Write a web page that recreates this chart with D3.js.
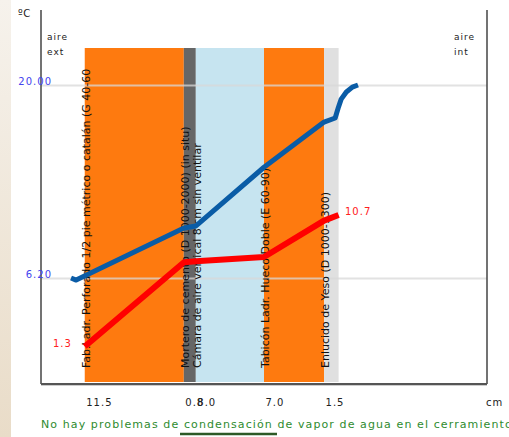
<!DOCTYPE html>
<html><head><meta charset="utf-8">
<script src="https://cdn.jsdelivr.net/npm/d3@7"></script>
<style>body{margin:0;background:#fff;}svg{display:block;font-family:"DejaVu Sans",Verdana,sans-serif;}</style>
</head><body>
<script>
// ---- data ----
const layerNames = [
  "Fab.Ladr. Perforado 1/2 pie métrico o catalán (G 40-60",
  "Mortero de cemento (D 1000-2000) (in situ)",
  "Cámara de aire vertical 8 cm sin ventilar",
  "Tabicón Ladr. Hueco Doble (E 60-90)",
  "Enlucido de Yeso (D 1000-1300)"
];
const layerKinds = ["fabrica", "mortero", "camara", "fabrica", "enlucido"];
const layerThickLabels = ["11.5", "0.8", "8.0", "7.0", "1.5"];
const layerBounds = [5.1, 16.65, 18.05, 26.0, 33.0, 34.7]; // display position (cm)
const tempPos  = [3.5, 4.1, 16.67, 18.07, 26.0, 33.0, 34.3, 34.65, 35.0, 35.6, 36.3, 36.96];
const tempVals = [6.2, 6.05, 9.77, 9.92, 14.12, 17.35, 17.64, 18.35, 18.99, 19.5, 19.85, 20.0];
const dewPos   = [5.1, 16.67, 18.07, 26.0, 33.0, 34.7];
const dewVals  = [1.3, 7.33, 7.39, 7.7, 10.3, 10.7];
const yTickVals = [6.2, 20];
const message = "No hay problemas de condensación de vapor de agua en el cerramiento";

// ---- styles ----
const kindColor = {fabrica:"#fe7a0f", mortero:"#666666", camara:"#c6e4f0", enlucido:"#e0e0e0"};

const W = 509, H = 437;
const svg = d3.select("body").append("svg").attr("width", W).attr("height", H);

const defs = svg.append("defs");
const g1 = defs.append("linearGradient").attr("id","bg").attr("x1",0).attr("x2",0).attr("y1",0).attr("y2",1);
g1.append("stop").attr("offset","0%").attr("stop-color","#f6f2ec");
g1.append("stop").attr("offset","100%").attr("stop-color","#e9dcc8");
svg.append("rect").attr("x",0).attr("y",0).attr("width",11).attr("height",H).attr("fill","url(#bg)");

const x = d3.scaleLinear().domain([0, 52]).range([41, 487]);
const y = d3.scaleLinear().domain([6.2, 20]).range([278, 85]);
const plotTop = 10, plotBottom = 384, layerTop = 48, layerBottom = 382;

// layers
const layers = layerNames.map((n,i)=>({name:n, kind:layerKinds[i], label:layerThickLabels[i], x0:layerBounds[i], x1:layerBounds[i+1]}));
svg.append("g").selectAll("rect").data(layers).join("rect")
  .attr("x", d=>x(d.x0)).attr("y", layerTop)
  .attr("width", d=>x(d.x1)-x(d.x0)).attr("height", layerBottom-layerTop)
  .attr("fill", d=>kindColor[d.kind]);

// grid lines via axis
const grid = svg.append("g").attr("transform",`translate(${x(0)},0)`)
  .call(d3.axisLeft(y).tickValues(yTickVals).tickSize(-(x(52)-x(0))).tickFormat(""));
grid.select(".domain").remove();
grid.selectAll("line").attr("stroke","#d8d8d8").attr("stroke-opacity",0.75).attr("stroke-width",2);

// rotated layer names
svg.append("g").selectAll("text").data(layers).join("text")
  .attr("transform", d=>`translate(${x(d.x0)+5},368) rotate(-90)`)
  .attr("font-size",11).attr("fill","#111").text(d=>d.name);

// lines
const line = d3.line().x(d=>x(d[0])).y(d=>y(d[1]));
svg.append("path").datum(dewPos.map((p,i)=>[p,dewVals[i]]))
  .attr("d", line).attr("fill","none").attr("stroke","#ff0000").attr("stroke-width",6).attr("stroke-linejoin","round");
svg.append("path").datum(tempPos.map((p,i)=>[p,tempVals[i]]))
  .attr("d", line).attr("fill","none").attr("stroke","#0a5ca6").attr("stroke-width",5).attr("stroke-linejoin","round");

// frame
svg.append("line").attr("x1",x(0)).attr("x2",x(0)).attr("y1",plotTop).attr("y2",plotBottom).attr("stroke","#444").attr("stroke-width",1.5);
svg.append("line").attr("x1",x(52)).attr("x2",x(52)).attr("y1",plotTop).attr("y2",plotBottom).attr("stroke","#444").attr("stroke-width",1.5);
svg.append("line").attr("x1",x(0)).attr("x2",x(52)).attr("y1",plotBottom).attr("y2",plotBottom).attr("stroke","#555").attr("stroke-width",2);
svg.append("line").attr("x1",x(0)).attr("x2",x(52)).attr("y1",plotBottom+1.5).attr("y2",plotBottom+1.5).attr("stroke","#ccc").attr("stroke-width",1);

// y labels via axis
const yAx = svg.append("g").attr("transform",`translate(${x(0)},0)`)
  .call(d3.axisLeft(y).tickValues(yTickVals).tickSize(0).tickFormat(d3.format(".2f")));
yAx.select(".domain").remove();
yAx.selectAll("text").attr("x",11).attr("dy",0).attr("y",-1).attr("text-anchor","end")
  .attr("fill","#4444ee").attr("font-size",10).attr("letter-spacing",1).attr("font-family","DejaVu Sans");

// x labels (thickness) via axis
const xAx = svg.append("g").attr("transform",`translate(0,${plotBottom})`)
  .call(d3.axisBottom(x).tickValues(layerBounds.slice(0,5)).tickSize(0).tickFormat((d,i)=>layerThickLabels[i]));
xAx.select(".domain").remove();
xAx.selectAll("text").attr("text-anchor","start").attr("dx",1).attr("y",22).attr("dy",0)
  .attr("fill","#222").attr("font-size",10).attr("letter-spacing",1).attr("font-family","DejaVu Sans");

const t = (txt,xx,yy,opt={})=>svg.append("text").attr("x",xx).attr("y",yy).text(txt)
  .attr("font-size",opt.fs||9).attr("letter-spacing",opt.ls==null?1:opt.ls).attr("fill",opt.fill||"#222").attr("text-anchor",opt.anchor||"start");
t("ºC",18,17,{fs:10,ls:0.5});
t("aire",47,40); t("ext",47,55);
t("aire",454,40); t("int",454,55);
t("cm",486,406,{fs:10});
t(d3.format(".1f")(dewVals[0]),53,347,{fs:10,fill:"#ff2020"});
t(d3.format(".1f")(dewVals[dewVals.length-1]),345,215,{fs:10,fill:"#ff2020"});
t(message,41,428,{fs:11,ls:1.1,fill:"#2e8b2e"});
svg.append("line").attr("x1",180).attr("x2",277).attr("y1",434).attr("y2",434).attr("stroke","#2d5a27").attr("stroke-width",2.5);
</script>
</body></html>
